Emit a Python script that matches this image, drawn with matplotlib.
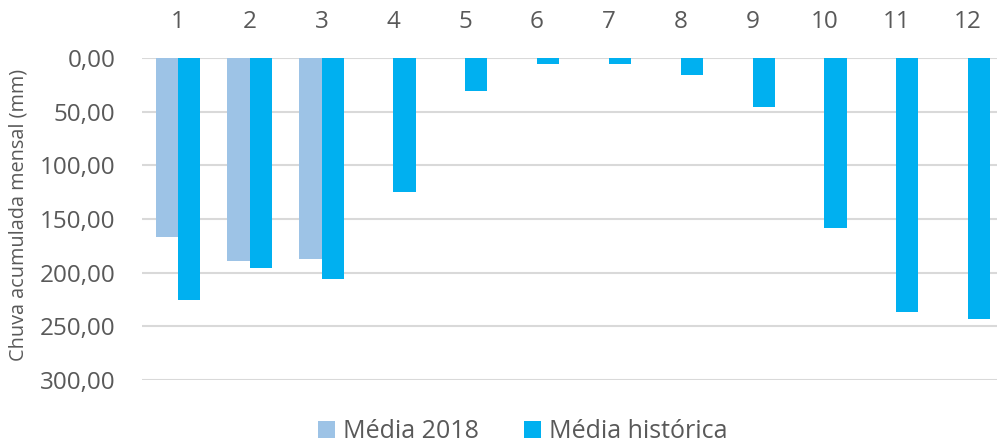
import numpy as np
import matplotlib.pyplot as plt
from matplotlib.ticker import FuncFormatter

meses = ['1', '2', '3', '4', '5', '6', '7', '8', '9', '10', '11', '12']
media_2018 = [167, 189, 187, np.nan, np.nan, np.nan, np.nan, np.nan, np.nan, np.nan, np.nan, np.nan]
media_historica = [225.5, 195.5, 205.5, 125, 31, 6, 6, 15.5, 45.5, 158, 237, 243]

plt.rcParams['font.family'] = ['Open Sans', 'DejaVu Sans']
cor_texto = '#595959'

fig = plt.figure(figsize=(9.97, 4.43), dpi=100)
ax = fig.add_axes([0.1424, 0.1422, 0.8646, 0.7269])

x = np.arange(1, len(meses) + 1)
w = 0.31
ax.bar(x - w / 2, media_2018, width=w, color='#9DC3E6', label='Média 2018', zorder=3)
ax.bar(x + w / 2, media_historica, width=w, color='#00B0F0', label='Média histórica', zorder=3)

ax.set_ylim(300, 0)
ax.set_xlim(0.5, 12.5)
ax.set_yticks(np.arange(0, 301, 50))
ax.yaxis.set_major_formatter(FuncFormatter(lambda v, p: f'{v:.2f}'.replace('.', ',')))
ax.set_xticks(x)
ax.set_xticklabels(meses)
ax.xaxis.tick_top()
ax.tick_params(axis='both', length=0, labelsize=17.5, colors=cor_texto)
ax.tick_params(axis='x', pad=17)
ax.tick_params(axis='y', pad=19)
ax.grid(axis='y', color='#D9D9D9', linewidth=1.5, zorder=0)
for s in ax.spines.values():
    s.set_visible(False)

fig.text(0.019, 0.515, 'Chuva acumulada mensal (mm)', rotation=90, ha='center', va='center',
         fontsize=14.3, color=cor_texto)

leg = fig.legend(loc='center', bbox_to_anchor=(0.524, 0.025), ncol=2, frameon=False,
                 fontsize=18, handlelength=0.7, handleheight=0.7, handletextpad=0.3,
                 columnspacing=1.8)
for t in leg.get_texts():
    t.set_color(cor_texto)

fig.savefig('out.png', dpi=100)
